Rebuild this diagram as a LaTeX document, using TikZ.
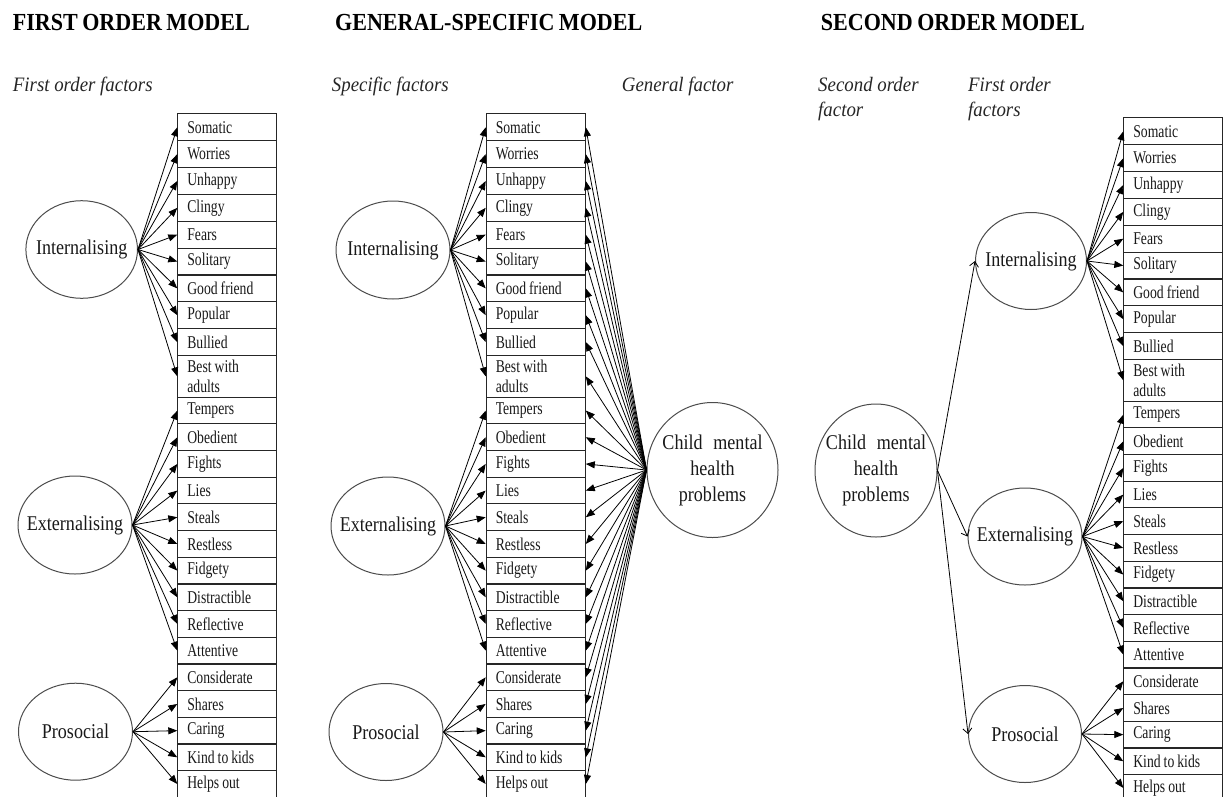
\documentclass[tikz,border=0pt]{standalone}
\usepackage{fontspec}
\setmainfont{Liberation Serif}
\newfontfamily\itemfont[FakeStretch=0.76]{Liberation Serif}
\newfontfamily\ovalfont[FakeStretch=0.86]{Liberation Serif}
\newfontfamily\headfont[FakeStretch=0.9]{Liberation Serif}
\newfontfamily\notefont[FakeStretch=0.92]{Liberation Serif}
\usetikzlibrary{shapes.geometric,arrows.meta}

% narrow word space
\newcommand\ws[1][3pt]{\hspace{#1}}

\tikzset{
  itembox/.style={draw=black!85, line width=1.1pt, rectangle, anchor=north west,
    text width=80pt, inner xsep=9.5pt, inner ysep=0pt, align=left,
    font=\itemfont\fontsize{18}{20}\selectfont, text=black!90},
  oval/.style={draw=black!70, line width=1pt, ellipse, inner sep=0pt},
  ovaltext/.style={inner sep=0pt, align=center, text=black!90,
    font=\ovalfont\fontsize{21}{26}\selectfont},
  head/.style={inner sep=0pt, anchor=base west,
    font=\headfont\bfseries\fontsize{24.5}{28}\selectfont},
  note/.style={inner sep=0pt, align=left, text=black!85,
    font=\notefont\itshape\fontsize{20.5}{25}\selectfont},
  arr/.style={-{Triangle[length=9pt,width=7pt]}, line width=0.8pt},
  barb/.style={-{Straight Barb[length=5pt,width=9pt]}, line width=0.8pt},
}

% one column of the 25 questionnaire items; #1 name prefix, #2 left x, #3 top y
\newcommand\itemcolumn[3]{%
  \foreach \t [count=\i] in {Somatic,Worries,Unhappy,Clingy,Fears,Solitary,Good\ws friend,Popular,Bullied}
    \node[itembox, minimum height=26.85pt] (#1\i) at (#2,{#3+26.85*(\i-1)}) {\t};
  \node[itembox, minimum height=41.75pt] (#110) at (#2,{#3+241.65}) {Best\ws with\\adults};
  \foreach \t [count=\i from 11] in {Tempers,Obedient,Fights,Lies,Steals,Restless,Fidgety,Distractible,Reflective,Attentive,Considerate,Shares,Caring,Kind\ws to\ws kids,Helps\ws out}
    \node[itembox, minimum height=26.67pt] (#1\i) at (#2,{#3+283.4+26.67*(\i-11)}) {\t};
}

\begin{document}
\begin{tikzpicture}[x=1pt,y=-1pt]
\fill[white] (0,0) rectangle (1228,796);
\useasboundingbox (0,0) rectangle (1228,796);

% headings
\node[head] (h1) at (12.7,30) {FIRST\ws[4.5pt]ORDER\ws[4.5pt]MODEL};
\node[head] (h2) at (335,30) {GENERAL-SPECIFIC\ws[4.5pt]MODEL};
\node[head] (h3) at (820.7,30) {SECOND\ws[4.5pt]ORDER\ws[4.5pt]MODEL};

\node[note, anchor=base west] (n1) at (12.7,91.5) {First order factors};
\node[note, anchor=base west] (n2) at (331.7,91.5) {Specific factors};
\node[note, anchor=base west] (n3) at (621.7,91.5) {General factor};
\node[note, anchor=north west] (n4) at (818,77.5) {Second order\\factor};
\node[note, anchor=north west] (n5) at (968,77.5) {First order\\factors};

% item columns
\itemcolumn{a}{177.3}{113.3}
\itemcolumn{b}{485.7}{113.3}
\itemcolumn{c}{1123.3}{117.3}

% first order model
\node[oval, minimum width=111.6pt, minimum height=97.6pt] (int1) at (81.7,249.5) {};
\node[oval, minimum width=114pt, minimum height=98pt] (ext1) at (75,525) {};
\node[oval, minimum width=114pt, minimum height=97pt] (pro1) at (75.5,731.7) {};
\node[ovaltext] (int1t) at (int1) {Internalising};
\node[ovaltext] (ext1t) at (ext1) {Externalising};
\node[ovaltext] (pro1t) at (pro1) {Prosocial};
\foreach \k in {1,...,10} \draw[arr] (int1.east) -- (a\k.west);
\foreach \k in {11,...,20} \draw[arr] (ext1.east) -- (a\k.west);
\foreach \k in {21,...,25} \draw[arr] (pro1.east) -- (a\k.west);

% general-specific model
\node[oval, minimum width=114pt, minimum height=98pt] (int2) at (393,250) {};
\node[oval, minimum width=114pt, minimum height=98pt] (ext2) at (388,526) {};
\node[oval, minimum width=114pt, minimum height=97pt] (pro2) at (386,732) {};
\node[oval, minimum width=131pt, minimum height=135pt] (gen2) at (712.5,470) {};
\node[ovaltext] (int2t) at (int2) {Internalising};
\node[ovaltext] (ext2t) at (ext2) {Externalising};
\node[ovaltext] (pro2t) at (pro2) {Prosocial};
\node[ovaltext] (gen2t) at (gen2) {Child\hspace{0.3em} mental\\health\\problems};
\foreach \k in {1,...,10} \draw[arr] (int2.east) -- (b\k.west);
\foreach \k in {11,...,20} \draw[arr] (ext2.east) -- (b\k.west);
\foreach \k in {21,...,25} \draw[arr] (pro2.east) -- (b\k.west);
\foreach \k in {1,...,25} \draw[arr] (gen2.west) -- (b\k.east);

% second order model
\node[oval, minimum width=122pt, minimum height=133pt] (gen3) at (876,470.5) {};
\node[oval, minimum width=111pt, minimum height=97pt] (int3) at (1031,261) {};
\node[oval, minimum width=114pt, minimum height=97pt] (ext3) at (1025,536.5) {};
\node[oval, minimum width=113pt, minimum height=97pt] (pro3) at (1025,734) {};
\node[ovaltext] (gen3t) at (gen3) {Child\hspace{0.3em} mental\\health\\problems};
\node[ovaltext] (int3t) at (int3) {Internalising};
\node[ovaltext] (ext3t) at (ext3) {Externalising};
\node[ovaltext] (pro3t) at (pro3) {Prosocial};
\draw[barb] (gen3.east) -- (int3.west);
\draw[barb] (gen3.east) -- (ext3.west);
\draw[barb] (gen3.east) -- (pro3.west);
\foreach \k in {1,...,10} \draw[arr] (int3.east) -- (c\k.west);
\foreach \k in {11,...,20} \draw[arr] (ext3.east) -- (c\k.west);
\foreach \k in {21,...,25} \draw[arr] (pro3.east) -- (c\k.west);
\end{tikzpicture}
\end{document}
